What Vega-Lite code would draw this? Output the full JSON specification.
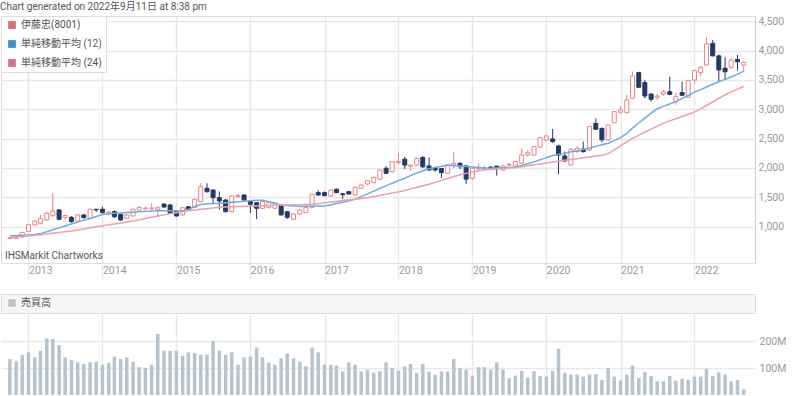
{
  "$schema": "https://vega.github.io/schema/vega-lite/v6.json",
  "padding": {"top": 2, "left": 0, "right": 0, "bottom": 0},
  "background": "white",
  "title": {"text": "Chart generated on 2022年9月11日 at 8:38 pm", "anchor": "start", "fontSize": 10, "fontWeight": "normal", "color": "#555555", "offset": 3, "frame": "bounds"},
  "config": {"font": "Roboto, Noto Sans CJK JP, sans-serif", "view": {"stroke": null}},
  "spacing": 11,
  "resolve": {"scale": {"fill": "independent", "shape": "independent"}, "legend": {"fill": "independent", "shape": "independent"}},
  "datasets": {
    "m": [
      {"d":"2012-10-01","o":800,"h":830,"l":785,"c":810,"m12":842,"m24":813,"v":133000000},
      {"d":"2012-11-01","o":800,"h":835,"l":790,"c":825,"m12":848,"m24":823,"v":125000000},
      {"d":"2012-12-01","o":825,"h":910,"l":815,"c":903,"m12":853,"m24":833,"v":149000000},
      {"d":"2013-01-01","o":920,"h":1045,"l":905,"c":1034,"m12":860,"m24":843,"v":158000000},
      {"d":"2013-02-01","o":1029,"h":1110,"l":1015,"c":1097,"m12":867,"m24":852,"v":139000000},
      {"d":"2013-03-01","o":1058,"h":1200,"l":1040,"c":1143,"m12":882,"m24":864,"v":164000000},
      {"d":"2013-04-01","o":1114,"h":1250,"l":1100,"c":1228,"m12":915,"m24":876,"v":210000000},
      {"d":"2013-05-01","o":1187,"h":1569,"l":1170,"c":1267,"m12":947,"m24":888,"v":207000000},
      {"d":"2013-06-01","o":1285,"h":1300,"l":1110,"c":1126,"m12":980,"m24":901,"v":185000000},
      {"d":"2013-07-01","o":1160,"h":1200,"l":1120,"c":1190,"m12":1012,"m24":913,"v":139000000},
      {"d":"2013-08-01","o":1160,"h":1180,"l":1070,"c":1085,"m12":1044,"m24":927,"v":130000000},
      {"d":"2013-09-01","o":1097,"h":1215,"l":1085,"c":1200,"m12":1077,"m24":944,"v":121000000},
      {"d":"2013-10-01","o":1200,"h":1215,"l":1140,"c":1153,"m12":1109,"m24":961,"v":115000000},
      {"d":"2013-11-01","o":1143,"h":1305,"l":1135,"c":1297,"m12":1140,"m24":980,"v":121000000},
      {"d":"2013-12-01","o":1297,"h":1300,"l":1250,"c":1285,"m12":1174,"m24":997,"v":123000000},
      {"d":"2014-01-01","o":1297,"h":1340,"l":1225,"c":1239,"m12":1206,"m24":1014,"v":112000000},
      {"d":"2014-02-01","o":1230,"h":1270,"l":1195,"c":1250,"m12":1222,"m24":1031,"v":119000000},
      {"d":"2014-03-01","o":1256,"h":1280,"l":1150,"c":1170,"m12":1227,"m24":1046,"v":142000000},
      {"d":"2014-04-01","o":1211,"h":1220,"l":1100,"c":1114,"m12":1233,"m24":1063,"v":133000000},
      {"d":"2014-05-01","o":1143,"h":1210,"l":1130,"c":1200,"m12":1240,"m24":1078,"v":139000000},
      {"d":"2014-06-01","o":1182,"h":1305,"l":1175,"c":1297,"m12":1247,"m24":1095,"v":123000000},
      {"d":"2014-07-01","o":1285,"h":1355,"l":1275,"c":1330,"m12":1254,"m24":1116,"v":103000000},
      {"d":"2014-08-01","o":1305,"h":1340,"l":1290,"c":1318,"m12":1261,"m24":1138,"v":100000000},
      {"d":"2014-09-01","o":1305,"h":1395,"l":1280,"c":1320,"m12":1269,"m24":1162,"v":112000000},
      {"d":"2014-10-01","o":1297,"h":1340,"l":1170,"c":1330,"m12":1272,"m24":1182,"v":226000000},
      {"d":"2014-11-01","o":1385,"h":1400,"l":1320,"c":1335,"m12":1272,"m24":1201,"v":164000000},
      {"d":"2014-12-01","o":1370,"h":1385,"l":1215,"c":1228,"m12":1272,"m24":1220,"v":164000000},
      {"d":"2015-01-01","o":1256,"h":1265,"l":1170,"c":1182,"m12":1272,"m24":1239,"v":164000000},
      {"d":"2015-02-01","o":1200,"h":1330,"l":1190,"c":1324,"m12":1272,"m24":1257,"v":145000000},
      {"d":"2015-03-01","o":1341,"h":1350,"l":1275,"c":1285,"m12":1293,"m24":1273,"v":158000000},
      {"d":"2015-04-01","o":1330,"h":1475,"l":1320,"c":1467,"m12":1343,"m24":1285,"v":155000000},
      {"d":"2015-05-01","o":1426,"h":1740,"l":1415,"c":1682,"m12":1378,"m24":1295,"v":149000000},
      {"d":"2015-06-01","o":1654,"h":1740,"l":1580,"c":1596,"m12":1390,"m24":1307,"v":149000000},
      {"d":"2015-07-01","o":1625,"h":1630,"l":1380,"c":1494,"m12":1394,"m24":1319,"v":200000000},
      {"d":"2015-08-01","o":1494,"h":1600,"l":1290,"c":1438,"m12":1399,"m24":1331,"v":164000000},
      {"d":"2015-09-01","o":1455,"h":1465,"l":1240,"c":1256,"m12":1407,"m24":1334,"v":149000000},
      {"d":"2015-10-01","o":1256,"h":1530,"l":1245,"c":1523,"m12":1416,"m24":1339,"v":158000000},
      {"d":"2015-11-01","o":1510,"h":1560,"l":1490,"c":1530,"m12":1424,"m24":1343,"v":112000000},
      {"d":"2015-12-01","o":1540,"h":1550,"l":1440,"c":1455,"m12":1433,"m24":1348,"v":139000000},
      {"d":"2016-01-01","o":1430,"h":1440,"l":1230,"c":1382,"m12":1441,"m24":1351,"v":142000000},
      {"d":"2016-02-01","o":1410,"h":1420,"l":1130,"c":1313,"m12":1450,"m24":1354,"v":176000000},
      {"d":"2016-03-01","o":1313,"h":1440,"l":1300,"c":1426,"m12":1452,"m24":1358,"v":139000000},
      {"d":"2016-04-01","o":1330,"h":1420,"l":1310,"c":1409,"m12":1426,"m24":1361,"v":119000000},
      {"d":"2016-05-01","o":1313,"h":1410,"l":1300,"c":1399,"m12":1399,"m24":1365,"v":112000000},
      {"d":"2016-06-01","o":1370,"h":1380,"l":1190,"c":1200,"m12":1371,"m24":1368,"v":136000000},
      {"d":"2016-07-01","o":1255,"h":1265,"l":1130,"c":1160,"m12":1361,"m24":1370,"v":154000000},
      {"d":"2016-08-01","o":1126,"h":1225,"l":1110,"c":1216,"m12":1353,"m24":1373,"v":136000000},
      {"d":"2016-09-01","o":1216,"h":1290,"l":1200,"c":1285,"m12":1344,"m24":1375,"v":123000000},
      {"d":"2016-10-01","o":1240,"h":1340,"l":1230,"c":1330,"m12":1346,"m24":1377,"v":106000000},
      {"d":"2016-11-01","o":1330,"h":1560,"l":1310,"c":1552,"m12":1349,"m24":1380,"v":176000000},
      {"d":"2016-12-01","o":1580,"h":1620,"l":1530,"c":1540,"m12":1353,"m24":1392,"v":158000000},
      {"d":"2017-01-01","o":1580,"h":1600,"l":1520,"c":1528,"m12":1353,"m24":1406,"v":112000000},
      {"d":"2017-02-01","o":1523,"h":1630,"l":1510,"c":1625,"m12":1375,"m24":1419,"v":112000000},
      {"d":"2017-03-01","o":1637,"h":1650,"l":1570,"c":1580,"m12":1395,"m24":1431,"v":109000000},
      {"d":"2017-04-01","o":1560,"h":1575,"l":1470,"c":1545,"m12":1417,"m24":1445,"v":87000000},
      {"d":"2017-05-01","o":1596,"h":1610,"l":1545,"c":1557,"m12":1440,"m24":1457,"v":121000000},
      {"d":"2017-06-01","o":1540,"h":1680,"l":1530,"c":1671,"m12":1465,"m24":1469,"v":112000000},
      {"d":"2017-07-01","o":1655,"h":1720,"l":1645,"c":1710,"m12":1513,"m24":1482,"v":87000000},
      {"d":"2017-08-01","o":1727,"h":1795,"l":1715,"c":1784,"m12":1559,"m24":1494,"v":94000000},
      {"d":"2017-09-01","o":1750,"h":1850,"l":1740,"c":1842,"m12":1605,"m24":1513,"v":83000000},
      {"d":"2017-10-01","o":1808,"h":1975,"l":1800,"c":1966,"m12":1651,"m24":1533,"v":88000000},
      {"d":"2017-11-01","o":1995,"h":2030,"l":1900,"c":1910,"m12":1695,"m24":1552,"v":121000000},
      {"d":"2017-12-01","o":1937,"h":2115,"l":1925,"c":2108,"m12":1740,"m24":1573,"v":100000000},
      {"d":"2018-01-01","o":2090,"h":2250,"l":2070,"c":2110,"m12":1784,"m24":1591,"v":90000000},
      {"d":"2018-02-01","o":2150,"h":2190,"l":1980,"c":2050,"m12":1826,"m24":1617,"v":105000000},
      {"d":"2018-03-01","o":2030,"h":2060,"l":1950,"c":2050,"m12":1869,"m24":1644,"v":115000000},
      {"d":"2018-04-01","o":2050,"h":2175,"l":2030,"c":2165,"m12":1912,"m24":1671,"v":81000000},
      {"d":"2018-05-01","o":2180,"h":2200,"l":2000,"c":2020,"m12":1953,"m24":1699,"v":115000000},
      {"d":"2018-06-01","o":2035,"h":2180,"l":1950,"c":1965,"m12":1987,"m24":1724,"v":87000000},
      {"d":"2018-07-01","o":2005,"h":2015,"l":1940,"c":1965,"m12":2007,"m24":1755,"v":75000000},
      {"d":"2018-08-01","o":1990,"h":2000,"l":1830,"c":1920,"m12":2028,"m24":1787,"v":88000000},
      {"d":"2018-09-01","o":1910,"h":2060,"l":1900,"c":2050,"m12":2046,"m24":1820,"v":87000000},
      {"d":"2018-10-01","o":2035,"h":2280,"l":2000,"c":2080,"m12":2045,"m24":1854,"v":133000000},
      {"d":"2018-11-01","o":2080,"h":2100,"l":1980,"c":2022,"m12":2036,"m24":1884,"v":100000000},
      {"d":"2018-12-01","o":2035,"h":2050,"l":1728,"c":1810,"m12":2026,"m24":1908,"v":94000000},
      {"d":"2019-01-01","o":1825,"h":2000,"l":1800,"c":1995,"m12":2017,"m24":1930,"v":72000000},
      {"d":"2019-02-01","o":1985,"h":2080,"l":1965,"c":2000,"m12":2009,"m24":1954,"v":103000000},
      {"d":"2019-03-01","o":1990,"h":2040,"l":1960,"c":2000,"m12":2002,"m24":1970,"v":103000000},
      {"d":"2019-04-01","o":2015,"h":2030,"l":1975,"c":1990,"m12":1995,"m24":1976,"v":94000000},
      {"d":"2019-05-01","o":2030,"h":2040,"l":1870,"c":1990,"m12":2000,"m24":1983,"v":121000000},
      {"d":"2019-06-01","o":1965,"h":2045,"l":1950,"c":2035,"m12":2007,"m24":1992,"v":94000000},
      {"d":"2019-07-01","o":2050,"h":2080,"l":2030,"c":2065,"m12":2014,"m24":1999,"v":62000000},
      {"d":"2019-08-01","o":2035,"h":2120,"l":2020,"c":2110,"m12":2019,"m24":2006,"v":72000000},
      {"d":"2019-09-01","o":2080,"h":2335,"l":2070,"c":2220,"m12":2041,"m24":2022,"v":90000000},
      {"d":"2019-10-01","o":2220,"h":2307,"l":2200,"c":2260,"m12":2072,"m24":2038,"v":64000000},
      {"d":"2019-11-01","o":2220,"h":2375,"l":2210,"c":2365,"m12":2104,"m24":2055,"v":88000000},
      {"d":"2019-12-01","o":2355,"h":2530,"l":2340,"c":2517,"m12":2140,"m24":2070,"v":70000000},
      {"d":"2020-01-01","o":2475,"h":2560,"l":2460,"c":2545,"m12":2177,"m24":2087,"v":68000000},
      {"d":"2020-02-01","o":2495,"h":2665,"l":2430,"c":2450,"m12":2212,"m24":2101,"v":90000000},
      {"d":"2020-03-01","o":2375,"h":2400,"l":1893,"c":2220,"m12":2232,"m24":2116,"v":172000000},
      {"d":"2020-04-01","o":2205,"h":2280,"l":2100,"c":2120,"m12":2252,"m24":2130,"v":82000000},
      {"d":"2020-05-01","o":2050,"h":2330,"l":2040,"c":2320,"m12":2275,"m24":2145,"v":76000000},
      {"d":"2020-06-01","o":2280,"h":2375,"l":2260,"c":2335,"m12":2295,"m24":2159,"v":76000000},
      {"d":"2020-07-01","o":2320,"h":2450,"l":2260,"c":2280,"m12":2316,"m24":2173,"v":68000000},
      {"d":"2020-08-01","o":2307,"h":2715,"l":2290,"c":2705,"m12":2341,"m24":2188,"v":76000000},
      {"d":"2020-09-01","o":2760,"h":2847,"l":2650,"c":2660,"m12":2368,"m24":2203,"v":78000000},
      {"d":"2020-10-01","o":2675,"h":2690,"l":2440,"c":2480,"m12":2396,"m24":2219,"v":56000000},
      {"d":"2020-11-01","o":2480,"h":2745,"l":2460,"c":2735,"m12":2423,"m24":2244,"v":100000000},
      {"d":"2020-12-01","o":2772,"h":2970,"l":2760,"c":2960,"m12":2467,"m24":2310,"v":68000000},
      {"d":"2021-01-01","o":2950,"h":3057,"l":2930,"c":2990,"m12":2517,"m24":2377,"v":54000000},
      {"d":"2021-02-01","o":2943,"h":3244,"l":2930,"c":3160,"m12":2588,"m24":2445,"v":76000000},
      {"d":"2021-03-01","o":3190,"h":3641,"l":3180,"c":3568,"m12":2680,"m24":2505,"v":109000000},
      {"d":"2021-04-01","o":3625,"h":3640,"l":3360,"c":3375,"m12":2767,"m24":2557,"v":64000000},
      {"d":"2021-05-01","o":3455,"h":3500,"l":3190,"c":3227,"m12":2851,"m24":2610,"v":84000000},
      {"d":"2021-06-01","o":3260,"h":3275,"l":3130,"c":3170,"m12":2934,"m24":2661,"v":70000000},
      {"d":"2021-07-01","o":3205,"h":3260,"l":3160,"c":3225,"m12":3009,"m24":2714,"v":51000000},
      {"d":"2021-08-01","o":3260,"h":3330,"l":3230,"c":3300,"m12":3050,"m24":2765,"v":51000000},
      {"d":"2021-09-01","o":3300,"h":3555,"l":3240,"c":3255,"m12":3091,"m24":2803,"v":70000000},
      {"d":"2021-10-01","o":3130,"h":3280,"l":3080,"c":3215,"m12":3130,"m24":2840,"v":54000000},
      {"d":"2021-11-01","o":3285,"h":3470,"l":3230,"c":3240,"m12":3185,"m24":2878,"v":60000000},
      {"d":"2021-12-01","o":3205,"h":3500,"l":3200,"c":3490,"m12":3237,"m24":2915,"v":56000000},
      {"d":"2022-01-01","o":3500,"h":3680,"l":3430,"c":3660,"m12":3292,"m24":2953,"v":68000000},
      {"d":"2022-02-01","o":3625,"h":3740,"l":3560,"c":3715,"m12":3336,"m24":3006,"v":68000000},
      {"d":"2022-03-01","o":3755,"h":4227,"l":3740,"c":4113,"m12":3381,"m24":3065,"v":97000000},
      {"d":"2022-04-01","o":4125,"h":4181,"l":3900,"c":3910,"m12":3427,"m24":3125,"v":70000000},
      {"d":"2022-05-01","o":3910,"h":3930,"l":3470,"c":3670,"m12":3469,"m24":3185,"v":84000000},
      {"d":"2022-06-01","o":3700,"h":3887,"l":3500,"c":3640,"m12":3510,"m24":3244,"v":76000000},
      {"d":"2022-07-01","o":3715,"h":3870,"l":3690,"c":3840,"m12":3551,"m24":3297,"v":50000000},
      {"d":"2022-08-01","o":3850,"h":3925,"l":3660,"c":3810,"m12":3600,"m24":3343,"v":56000000},
      {"d":"2022-09-01","o":3755,"h":3810,"l":3640,"c":3800,"m12":3650,"m24":3389,"v":21000000}
    ]
  },
  "vconcat": [
    {
      "width": 754,
      "height": 247,
      "view": {"stroke": "#dddddd"},
      "resolve": {"scale": {"fill": "independent", "shape": "independent"}, "legend": {"fill": "independent", "shape": "independent"}},
      "layer": [
        {
          "data": {"name": "m"},
          "mark": {"type": "rule", "strokeWidth": 1},
          "encoding": {
            "x": {"field": "d", "type": "temporal", "title": null,
              "scale": {"type": "utc", "nice": false, "domain": [{"year": 2012, "month": 9, "date": 12, "utc": true}, {"year": 2022, "month": 10, "date": 2, "utc": true}]},
              "axis": {"values": [{"year": 2013, "month": 1, "date": 1, "utc": true}, {"year": 2014, "month": 1, "date": 1, "utc": true}, {"year": 2015, "month": 1, "date": 1, "utc": true}, {"year": 2016, "month": 1, "date": 1, "utc": true}, {"year": 2017, "month": 1, "date": 1, "utc": true}, {"year": 2018, "month": 1, "date": 1, "utc": true}, {"year": 2019, "month": 1, "date": 1, "utc": true}, {"year": 2020, "month": 1, "date": 1, "utc": true}, {"year": 2021, "month": 1, "date": 1, "utc": true}, {"year": 2022, "month": 1, "date": 1, "utc": true}],
                "format": "%Y", "formatType": "utc", "grid": true, "gridColor": "#e8e8e8", "gridWidth": 1.5,
                "ticks": true, "tickSize": 17, "tickColor": "#e8e8e8", "tickWidth": 1.5,
                "labelAlign": "left", "labelDx": 4, "labelPadding": -10, "labelBaseline": "middle",
                "labelFontSize": 10.5, "labelColor": "#999999", "labelFlush": false, "labelOverlap": false,
                "domain": true, "domainColor": "#dddddd", "title": null}},
            "y": {"field": "l", "type": "quantitative", "title": null,
              "scale": {"domain": [381, 4590], "nice": false, "zero": false},
              "axis": {"orient": "right", "values": [1000, 1500, 2000, 2500, 3000, 3500, 4000, 4500], "labelExpr": "format(datum.value, ',')", "tickCount": 8,
                "grid": true, "gridColor": "#e8e8e8", "gridWidth": 1.5, "ticks": false,
                "domain": true, "domainColor": "#cccccc", "labelPadding": 3, "labelFontSize": 10.5, "labelColor": "#999999", "title": null}},
            "y2": {"field": "h"},
            "color": {"condition": {"test": "datum.c >= datum.o", "value": "#e8828b"}, "value": "#223a66"}
          }
        },
        {
          "data": {"name": "m"},
          "mark": {"type": "bar", "size": 4, "strokeWidth": 1},
          "encoding": {
            "x": {"field": "d", "type": "temporal", "title": null},
            "y": {"field": "o", "type": "quantitative", "title": null,
              "axis": {"orient": "right", "values": [1000, 1500, 2000, 2500, 3000, 3500, 4000, 4500], "labelExpr": "format(datum.value, ',')", "tickCount": 8,
                "grid": true, "gridColor": "#e8e8e8", "gridWidth": 1.5, "ticks": false,
                "domain": true, "domainColor": "#cccccc", "labelPadding": 3, "labelFontSize": 10.5, "labelColor": "#999999", "title": null}},
            "y2": {"field": "c"},
            "fill": {"condition": {"test": "datum.c >= datum.o", "value": "#ffffff"}, "value": "#223a66"},
            "stroke": {"condition": {"test": "datum.c >= datum.o", "value": "#e8828b"}, "value": "#223a66"}
          }
        },
        {
          "data": {"name": "m"},
          "mark": {"type": "line", "stroke": "#6aaee0", "strokeWidth": 1.5},
          "encoding": {
            "x": {"field": "d", "type": "temporal", "title": null},
            "y": {"field": "m12", "type": "quantitative", "title": null,
              "axis": {"orient": "right", "values": [1000, 1500, 2000, 2500, 3000, 3500, 4000, 4500], "labelExpr": "format(datum.value, ',')", "tickCount": 8,
                "grid": true, "gridColor": "#e8e8e8", "gridWidth": 1.5, "ticks": false,
                "domain": true, "domainColor": "#cccccc", "labelPadding": 3, "labelFontSize": 10.5, "labelColor": "#999999", "title": null}}
          }
        },
        {
          "data": {"name": "m"},
          "mark": {"type": "line", "stroke": "#eba0aa", "strokeWidth": 1.5},
          "encoding": {
            "x": {"field": "d", "type": "temporal", "title": null},
            "y": {"field": "m24", "type": "quantitative", "title": null,
              "axis": {"orient": "right", "values": [1000, 1500, 2000, 2500, 3000, 3500, 4000, 4500], "labelExpr": "format(datum.value, ',')", "tickCount": 8,
                "grid": true, "gridColor": "#e8e8e8", "gridWidth": 1.5, "ticks": false,
                "domain": true, "domainColor": "#cccccc", "labelPadding": 3, "labelFontSize": 10.5, "labelColor": "#999999", "title": null}}
          }
        },
        {
          "data": {"values": [{"s": "伊藤忠(8001)"}, {"s": "単純移動平均 (12)"}, {"s": "単純移動平均 (24)"}]},
          "mark": {"type": "square", "opacity": 0},
          "encoding": {
            "fill": {"field": "s", "type": "nominal",
              "scale": {"domain": ["伊藤忠(8001)", "単純移動平均 (12)", "単純移動平均 (24)"],
                "range": ["#e06a77", "#3f8fca", "#db7189"]},
              "legend": {"orient": "top-left", "offset": 0, "padding": 4, "title": null, "fillColor": "#ffffff", "strokeColor": "#dddddd",
                "symbolType": "square", "symbolSize": 60, "symbolStrokeWidth": 0, "symbolOffset": 2, "labelOffset": 4,
                "labelFontSize": 10, "labelColor": "#555555", "rowPadding": 9}
            }
          }
        },
        {
          "data": {"values": [{"t": "IHSMarkit Chartworks"}]},
          "mark": {"type": "point", "opacity": 0},
          "encoding": {
            "shape": {"field": "t", "type": "nominal",
              "legend": {"orient": "bottom-left", "offset": 2, "padding": 0, "title": null, "symbolSize": 0, "symbolOpacity": 0, "symbolStrokeWidth": 0, "labelOffset": -8,
                "labelFontSize": 10, "labelColor": "#555555"}}
          }
        }
      ]
    },
    {
      "spacing": 0,
      "resolve": {"scale": {"fill": "independent"}, "legend": {"fill": "independent"}},
      "vconcat": [
        {
          "width": 754,
          "height": 19,
          "view": {"fill": "#f6f6f6", "stroke": "#dddddd"},
          "data": {"values": [{"s": "売買高"}]},
          "mark": {"type": "square", "opacity": 0},
          "encoding": {
            "fill": {"field": "s", "type": "nominal", "scale": {"range": ["#b6c4ce"]},
              "legend": {"orient": "top-left", "offset": 0, "padding": 4, "title": null, "symbolType": "square", "symbolSize": 56, "symbolStrokeWidth": 0, "symbolOffset": 2,
                "labelOffset": 4, "labelFontSize": 10, "labelColor": "#555555"}}
          }
        },
        {
          "width": 754,
          "height": 81,
          "data": {"name": "m"},
          "mark": {"type": "bar", "size": 3.5, "color": "#b6c4ce"},
          "encoding": {
            "x": {"field": "d", "type": "temporal", "title": null,
              "scale": {"type": "utc", "nice": false, "domain": [{"year": 2012, "month": 9, "date": 12, "utc": true}, {"year": 2022, "month": 10, "date": 2, "utc": true}]},
              "axis": {"values": [{"year": 2013, "month": 1, "date": 1, "utc": true}, {"year": 2014, "month": 1, "date": 1, "utc": true}, {"year": 2015, "month": 1, "date": 1, "utc": true}, {"year": 2016, "month": 1, "date": 1, "utc": true}, {"year": 2017, "month": 1, "date": 1, "utc": true}, {"year": 2018, "month": 1, "date": 1, "utc": true}, {"year": 2019, "month": 1, "date": 1, "utc": true}, {"year": 2020, "month": 1, "date": 1, "utc": true}, {"year": 2021, "month": 1, "date": 1, "utc": true}, {"year": 2022, "month": 1, "date": 1, "utc": true}],
                "grid": true, "gridColor": "#e8e8e8", "gridWidth": 1.5, "labels": false, "ticks": false, "domain": false, "title": null}},
            "y": {"field": "v", "type": "quantitative", "title": null,
              "scale": {"domain": [0, 300000000], "nice": false},
              "axis": {"orient": "right", "values": [100000000, 200000000], "labelExpr": "format(datum.value / 1000000, 'd') + 'M'",
                "grid": true, "gridColor": "#e8e8e8", "gridWidth": 1.5, "ticks": false, "domain": false,
                "labelPadding": 4, "labelFontSize": 10.5, "labelColor": "#999999", "title": null}}
          }
        }
      ]
    }
  ]
}
